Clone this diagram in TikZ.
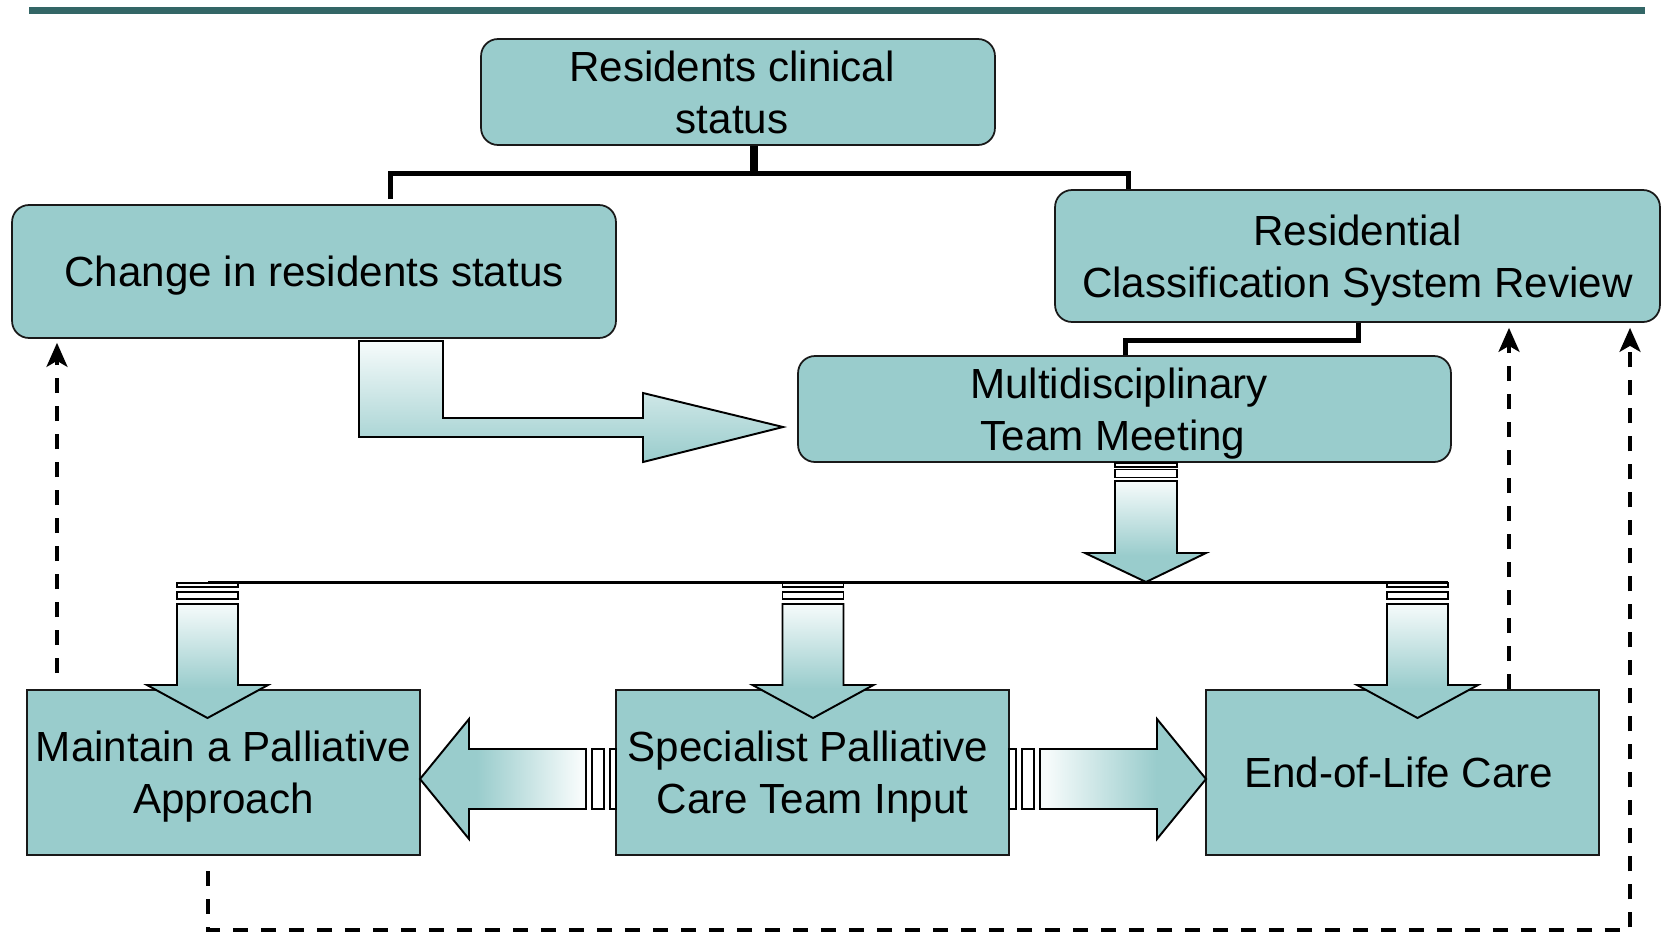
\documentclass[tikz,border=0pt]{standalone}
\usepackage{fontspec}
\setmainfont{Liberation Sans}
\usetikzlibrary{arrows.meta,calc}
\definecolor{boxfill}{RGB}{153,204,204}
\definecolor{rulecol}{RGB}{51,102,102}
\definecolor{paleteal}{RGB}{246,251,251}
\pgfdeclarehorizontalshading{tealL}{100bp}{color(0bp)=(boxfill); color(42bp)=(boxfill); color(73bp)=(paleteal); color(100bp)=(paleteal)}
\pgfdeclarehorizontalshading{tealR}{100bp}{color(0bp)=(paleteal); color(27bp)=(paleteal); color(60bp)=(boxfill); color(100bp)=(boxfill)}
\pgfdeclareverticalshading{tealD}{100bp}{color(0bp)=(boxfill); color(38bp)=(boxfill); color(75bp)=(paleteal); color(100bp)=(paleteal)}
\begin{document}
\begin{tikzpicture}[x=0.02cm,y=-0.02cm,
  box/.style={draw=black!90, line width=1pt, fill=boxfill, align=center, inner sep=0pt,
    text depth=0pt, font=\fontsize{24}{29.6}\selectfont},
  rbox/.style={box, rounded corners=0.34cm},
  conn/.style={line width=0.1cm, draw=black},
  dasharr/.style={line width=0.07cm, dash pattern=on 0.3cm off 0.26cm,
    -{Stealth[length=0.48cm,width=0.42cm,inset=0.12cm]}},
  barbox/.style={draw=black, line width=1pt, fill=white},
  blk/.style={draw=black, line width=1.1pt, line join=miter},
]
\useasboundingbox (0,0) rectangle (1666,934);
% top rule
\draw[rulecol, line width=0.14cm] (29,10) -- (1645,10);

% boxes
\node[rbox, minimum width=10.28cm, minimum height=2.12cm] (rcs) at (738,92) {Residents clinical\hspace*{0.24cm}\\status\hspace*{0.24cm}};
\node[rbox, minimum width=12.08cm, minimum height=2.66cm] (chg) at (314,271.5) {Change in residents status};
\node[rbox, minimum width=12.1cm, minimum height=2.64cm] (rcsr) at (1357.5,256) {Residential\\Classification System Review};
\node[rbox, minimum width=13.06cm, minimum height=2.12cm] (mtm) at (1124.5,409) {Multidisciplinary\hspace*{0.22cm}\\Team Meeting\hspace*{0.46cm}};
\node[box, minimum width=7.86cm, minimum height=3.3cm] (map) at (223.5,772.5) {Maintain a Palliative\\Approach};
\node[box, minimum width=7.86cm, minimum height=3.3cm] (spc) at (812.5,772.5) {Specialist Palliative\hspace*{0.18cm}\\Care Team Input};
\node[box, minimum width=7.86cm, minimum height=3.3cm] (eol) at (1402.5,772.5) {End-of-Life Care\hspace*{0.15cm}};

% top connectors
\coordinate (j) at (754,173);
\coordinate (jl) at (390,199);
\coordinate (jr) at (1128,173);
\draw[line width=0.16cm] (rcs.south -| j) -- (j);
\draw[conn] (jl) |- (jr) -- (rcsr.north -| jr);
\coordinate (k1) at (1358,340);
\coordinate (k2) at (1125,340);
\draw[conn] (rcsr.south -| k1) -- (k1) -- (k2) -- (mtm.north -| k2);

% L block arrow
\draw[blk, top color=paleteal, bottom color=boxfill] (359,341) -- (443,341) -- (443,418) -- (643,418) -- (643,393) -- (783,427) -- (643,462) -- (643,437) -- (359,437) -- cycle;

% MTM down arrow
\draw[barbox] (1115,463) rectangle (1177,467);
\draw[barbox] (1115,469.5) rectangle (1177,477.5);
\shadedraw[blk, shading=tealD] (1115,481) -- (1177,481) -- (1177,553) -- (1206,553) -- (1146,582) -- (1085,553) -- (1115,553) -- cycle;

% distribution bars and line
\foreach \c in {207.5,813,1417.5} {
  \draw[barbox] (\c-30.5,583) rectangle (\c+30.5,587);
  \draw[barbox] (\c-30.5,592) rectangle (\c+30.5,599);
}
\draw[line width=0.06cm] (208,582) -- (1448,582);
\foreach \c in {207.5,813,1417.5} {
  \shadedraw[blk, shading=tealD] (\c-30.5,604) -- (\c+30.5,604) -- (\c+30.5,685) -- (\c+60.5,685) -- (\c,718) -- (\c-60.5,685) -- (\c-30.5,685) -- cycle;
}

% left block arrow
\draw[barbox] (610,749) rectangle (616,809);
\draw[barbox] (592,749) rectangle (604,809);
\shadedraw[blk, shading=tealL] (586,749) -- (469,749) -- (469,719) -- (420,779) -- (469,839) -- (469,809) -- (586,809) -- cycle;

% right block arrow
\draw[barbox] (1009,749) rectangle (1016,809);
\draw[barbox] (1022,749) rectangle (1034,809);
\shadedraw[blk, shading=tealR] (1040,749) -- (1157,749) -- (1157,719) -- (1206,779) -- (1157,839) -- (1157,809) -- (1040,809) -- cycle;

% dashed feedback arrows
\coordinate (d1) at (57,673);
\draw[dasharr, shorten >=0.08cm] (d1) -- (chg.south -| d1);
\coordinate (d2) at (1509,0);
\draw[dasharr, shorten >=0.1cm] (eol.north -| d2) -- (rcsr.south -| d2);
\coordinate (d3) at (208,871);
\coordinate (d4) at (1630,930);
\draw[dasharr, shorten >=0.1cm] (d3) |- (d4) -- (rcsr.south -| d4);
\end{tikzpicture}
\end{document}
